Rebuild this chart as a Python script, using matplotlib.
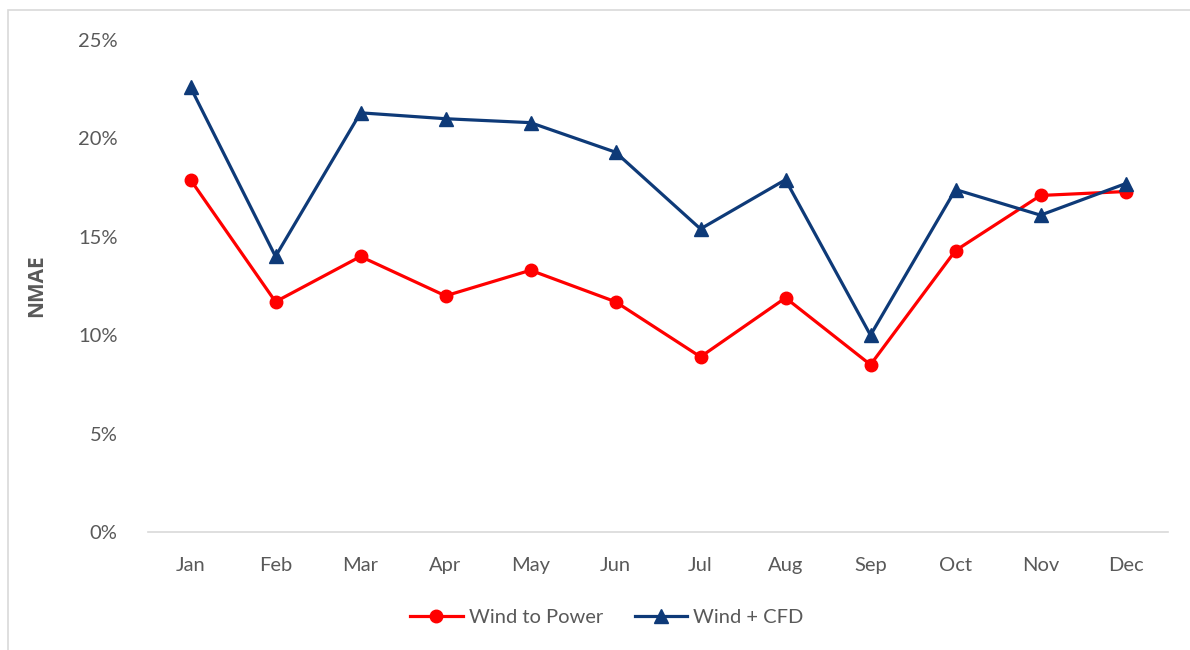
import matplotlib
matplotlib.use("Agg")
import matplotlib.pyplot as plt
from matplotlib.patches import Rectangle
from matplotlib.ticker import PercentFormatter

# datos
months = ["Jan", "Feb", "Mar", "Apr", "May", "Jun", "Jul", "Aug", "Sep", "Oct", "Nov", "Dec"]
wind_to_power = [17.9, 11.7, 14.0, 12.0, 13.3, 11.7, 8.9, 11.9, 8.5, 14.3, 17.1, 17.3]
wind_cfd = [22.6, 14.0, 21.3, 21.0, 20.8, 19.3, 15.4, 17.9, 10.0, 17.4, 16.1, 17.7]

plt.rcParams["font.family"] = ["Lato", "DejaVu Sans"]
grey = "#595959"

fig = plt.figure(figsize=(11.9, 6.5), dpi=100)
# marco del grafico
fig.patches.append(Rectangle((8 / 1190, -0.1), 1.2, 1 - 10 / 650 + 0.1,
                             transform=fig.transFigure, fill=False,
                             edgecolor="#d9d9d9", linewidth=1.2))

ax = fig.add_axes([148 / 1190, 1 - 532 / 650, 1020 / 1190, 492 / 650])
x = range(len(months))
ax.plot(x, wind_to_power, color="#ff0000", linewidth=2.3, marker="o",
        markersize=9, label="Wind to Power", zorder=3)
ax.plot(x, wind_cfd, color="#0e3a78", linewidth=2.3, marker="^",
        markersize=10, label="Wind + CFD", zorder=3)

ax.set_xlim(-0.5, len(months) - 0.5)
ax.set_ylim(0, 25)
ax.set_yticks([0, 5, 10, 15, 20, 25])
ax.yaxis.set_major_formatter(PercentFormatter(decimals=0))
ax.set_xticks(list(x))
ax.set_xticklabels(months)
ax.tick_params(length=0, colors=grey, labelsize=14.5)
ax.tick_params(axis="y", pad=22)
ax.tick_params(axis="x", pad=18)

for s in ["top", "right", "left"]:
    ax.spines[s].set_visible(False)
ax.spines["bottom"].set_color("#d9d9d9")
ax.spines["bottom"].set_linewidth(1.2)

ax.set_ylabel("NMAE", fontsize=15, fontweight="bold", color=grey, labelpad=22,
              family=["Open Sans", "DejaVu Sans"])

ax.legend(loc="upper center", bbox_to_anchor=(0.45, -0.12), ncol=2,
          frameon=False, fontsize=14.5, labelcolor=grey, handlelength=2.6,
          handletextpad=0.3, columnspacing=1.6)

fig.savefig("out.png", dpi=100)
